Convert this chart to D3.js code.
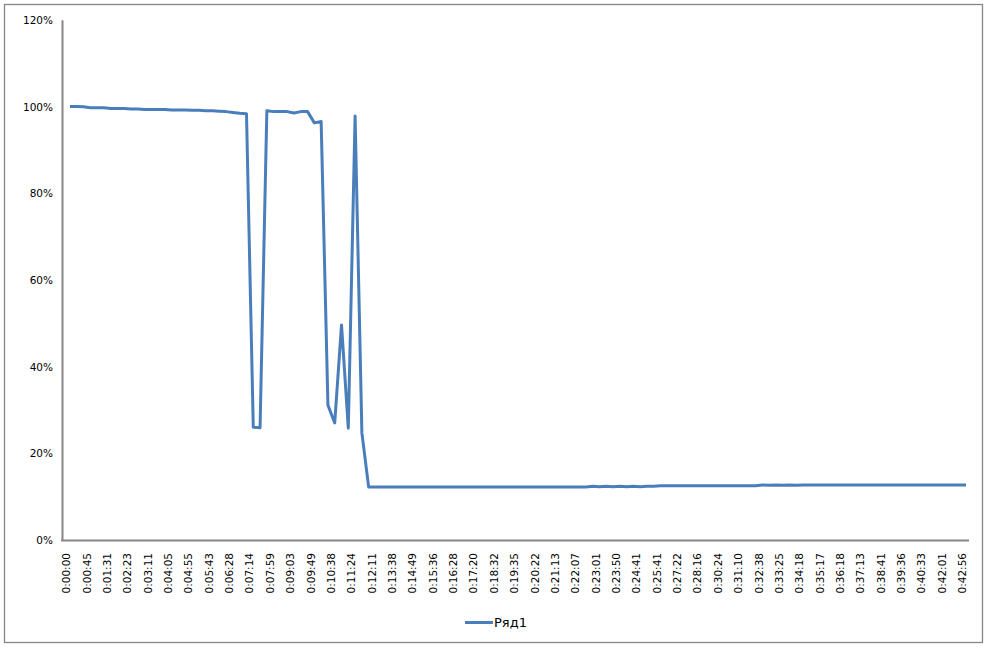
<!DOCTYPE html>
<html>
<head>
<meta charset="utf-8">
<script src="https://cdn.jsdelivr.net/npm/d3@7"></script>
<style>
  html, body { margin: 0; padding: 0; background: #ffffff; }
  svg { display: block; }
  text { font-family: "DejaVu Sans", Verdana, sans-serif; fill: #000; }
</style>
</head>
<body>
<svg id="chart" width="987" height="648"></svg>
<script>
// ---- data ----
const seriesName = "Ряд1";

// category labels shown on the x axis (every 3rd sample)
const tickLabels = [
  "0:00:00","0:00:45","0:01:31","0:02:23","0:03:11","0:04:05","0:04:55","0:05:43",
  "0:06:28","0:07:14","0:07:59","0:09:03","0:09:49","0:10:38","0:11:24","0:12:11",
  "0:13:38","0:14:49","0:15:36","0:16:28","0:17:20","0:18:32","0:19:35","0:20:22",
  "0:21:13","0:22:07","0:23:01","0:23:50","0:24:41","0:25:41","0:27:22","0:28:16",
  "0:30:24","0:31:10","0:32:38","0:33:25","0:34:18","0:35:17","0:36:18","0:37:13",
  "0:38:41","0:39:36","0:40:33","0:42:01","0:42:56"
];
const labelStep = 3;

// series values (fraction), one per sample
const values = [
  1.000,1.000,0.999,0.997,0.997,0.997,0.995,0.995,0.995,0.994,
  0.994,0.993,0.993,0.993,0.993,0.992,0.992,0.992,0.991,0.991,
  0.990,0.990,0.989,0.988,0.986,0.984,0.983,0.260,0.259,0.990,
  0.988,0.988,0.988,0.985,0.988,0.988,0.962,0.965,0.311,0.270,
  0.496,0.258,0.978,0.247,
  0.122,0.122,0.122,0.122,0.122,0.122,0.122,0.122,0.122,0.122,
  0.122,0.122,0.122,0.122,0.122,0.122,0.122,0.122,0.122,0.122,
  0.122,0.122,0.122,0.122,0.122,0.122,0.122,0.122,0.122,0.122,
  0.122,0.122,0.122,
  0.124,0.123,0.124,0.123,0.124,0.123,0.124,0.123,0.124,0.124,
  0.125,0.125,0.125,0.125,0.125,0.125,0.125,0.125,0.125,0.125,
  0.125,0.125,0.125,0.125,0.125,
  0.127,0.126,0.127,0.126,0.127,0.126,0.127,0.127,
  0.127,0.127,0.127,0.127,0.127,0.127,0.127,0.127,0.127,0.127,
  0.127,0.127,0.127,0.127,0.127,0.127,0.127,0.127,0.127,0.127,
  0.127,0.127,0.127
];

const yTicks = [0, 0.2, 0.4, 0.6, 0.8, 1.0, 1.2];

// ---- drawing ----
const svg = d3.select("#chart");
const lineColor = "#4a7ebb";
const axisColor = "#868686";

// chart border
svg.append("rect")
  .attr("x", 4.5).attr("y", 4.5)
  .attr("width", 978).attr("height", 638)
  .attr("fill", "#fff")
  .attr("stroke", axisColor).attr("stroke-width", 1.3);

const plotLeft = 62, plotRight = 969, plotTop = 19.7, plotBottom = 540;

const x = d3.scaleLinear().domain([0, values.length - 1]).range([70, 966]);
const y = d3.scaleLinear().domain([0, 1.2]).range([plotBottom, plotTop]);

// y axis
const yAxis = d3.axisLeft(y)
  .tickValues(yTicks)
  .tickFormat(d3.format(".0%"))
  .tickSize(0)
  .tickPadding(9);
const gy = svg.append("g").attr("transform", `translate(${plotLeft},0)`).call(yAxis);
gy.select(".domain").attr("stroke", axisColor).attr("stroke-width", 2);
gy.selectAll("text")
  .attr("font-family", "DejaVu Sans")
  .attr("font-size", 10.5)
  .attr("dy", "0.35em")
  .attr("fill", "#000");

// x axis labels
const xAxis = d3.axisBottom(x)
  .tickValues(d3.range(0, values.length, labelStep))
  .tickFormat(i => tickLabels[i / labelStep])
  .tickSize(0);
const gx = svg.append("g").attr("transform", `translate(0,${plotBottom})`).call(xAxis);
gx.select(".domain").remove();
gx.selectAll("text")
  .attr("font-family", "DejaVu Sans")
  .attr("font-size", 10.5)
  .attr("fill", "#000")
  .attr("text-anchor", "end")
  .attr("transform", "translate(-4,13) rotate(-90)")
  .attr("x", 0).attr("y", 0)
  .attr("dy", "0.35em");

// x axis line
svg.append("line")
  .attr("x1", plotLeft - 1).attr("x2", plotRight)
  .attr("y1", plotBottom + 0.5).attr("y2", plotBottom + 0.5)
  .attr("stroke", axisColor).attr("stroke-width", 2);

// series line
const line = d3.line()
  .x((d, i) => x(i))
  .y(d => y(d));
svg.append("path")
  .datum(values)
  .attr("d", line)
  .attr("fill", "none")
  .attr("stroke", lineColor)
  .attr("stroke-width", 3)
  .attr("stroke-linejoin", "round")
  .attr("stroke-linecap", "butt");

// legend
const lg = svg.append("g").attr("transform", "translate(465,622.5)");
lg.append("line")
  .attr("x1", 0).attr("x2", 28).attr("y1", 0).attr("y2", 0)
  .attr("stroke", lineColor).attr("stroke-width", 3);
lg.append("text")
  .attr("x", 29).attr("y", 0).attr("dy", "0.35em")
  .attr("font-family", "DejaVu Sans")
  .attr("font-size", 13)
  .text(seriesName);
</script>
</body>
</html>
